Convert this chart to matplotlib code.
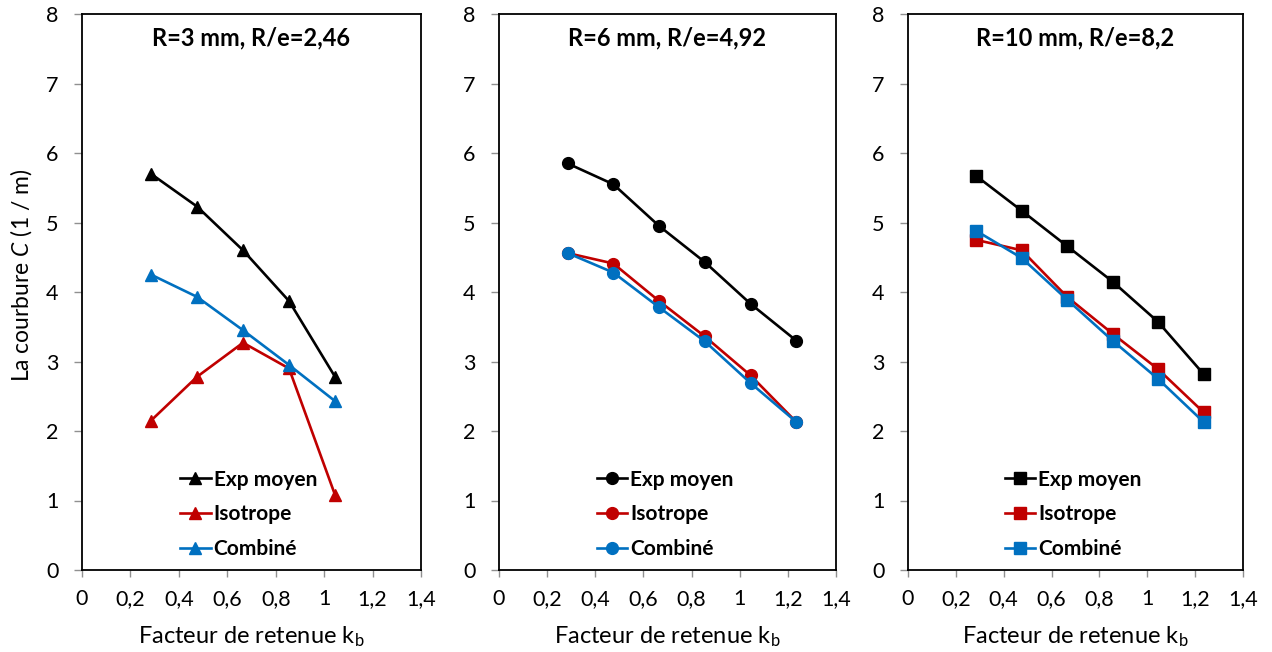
import numpy as np
import matplotlib
matplotlib.use("Agg")
import matplotlib.pyplot as plt
from matplotlib.ticker import FuncFormatter

plt.rcParams['font.family'] = ['Lato', 'DejaVu Sans']
plt.rcParams['mathtext.fontset'] = 'custom'
plt.rcParams['mathtext.rm'] = 'Lato'
plt.rcParams['mathtext.it'] = 'Lato:italic'

# Data
x_r3 = [0.285, 0.475, 0.665, 0.855, 1.045]
exp_r3 = [5.70, 5.23, 4.60, 3.87, 2.78]
iso_r3 = [2.15, 2.78, 3.27, 2.90, 1.08]
comb_r3 = [4.25, 3.93, 3.45, 2.95, 2.43]

x_r6 = [0.285, 0.475, 0.665, 0.855, 1.045, 1.235]
exp_r6 = [5.85, 5.55, 4.95, 4.43, 3.83, 3.30]
iso_r6 = [4.56, 4.41, 3.87, 3.36, 2.80, 2.13]
comb_r6 = [4.56, 4.28, 3.78, 3.29, 2.69, 2.13]

x_r10 = [0.285, 0.475, 0.665, 0.855, 1.045, 1.235]
exp_r10 = [5.67, 5.17, 4.66, 4.15, 3.57, 2.82]
iso_r10 = [4.75, 4.60, 3.93, 3.40, 2.89, 2.27]
comb_r10 = [4.88, 4.49, 3.89, 3.30, 2.75, 2.13]

titles = ["R=3 mm, R/e=2,46", "R=6 mm, R/e=4,92", "R=10 mm, R/e=8,2"]
series_names = ["Exp moyen", "Isotrope", "Combiné"]
colors = ["#000000", "#C00000", "#0070C0"]

panels = [
    (x_r3, [exp_r3, iso_r3, comb_r3], '^', 8.5),
    (x_r6, [exp_r6, iso_r6, comb_r6], 'o', 8.5),
    (x_r10, [exp_r10, iso_r10, comb_r10], 's', 8),
]

fig = plt.figure(figsize=(12.72, 6.52), dpi=100)
W, H = 1272, 652
lefts = [82, 499, 908]
widths = [339, 337, 335]
top_px, bot_px = 14, 570

comma = FuncFormatter(lambda v, p: ('%g' % round(v, 2)).replace('.', ','))

for i, (x, ys, marker, ms) in enumerate(panels):
    ax = fig.add_axes([lefts[i] / W, (H - bot_px) / H, widths[i] / W, (bot_px - top_px) / H])
    for y, name, c in zip(ys, series_names, colors):
        ax.plot(x, y, color=c, marker=marker, markersize=ms, linewidth=1.9, label=name)
    ax.set_xlim(0, 1.4)
    ax.set_ylim(0, 8)
    ax.set_xticks(np.arange(0, 1.41, 0.2))
    ax.set_yticks(range(0, 9))
    ax.xaxis.set_major_formatter(comma)
    ax.tick_params(axis='both', direction='out', width=1, color='#909090', labelsize=15.5)
    ax.tick_params(axis='x', length=5, pad=9)
    ax.tick_params(axis='y', length=6, pad=11)
    for s in ax.spines.values():
        s.set_color('#000000')
        s.set_linewidth(1.3)

    ax.text(0.5, 0.944, titles[i], transform=ax.transAxes, ha='center', va='baseline',
            fontsize=17, fontweight='bold')

    ax.set_xlabel(r"Facteur de retenue k$_\mathregular{b}$", fontsize=17, va='top')
    ax.xaxis.set_label_coords(0.5, -0.097)
    if i == 0:
        ax.set_ylabel(r"La courbure $C$ (1 / m)", fontsize=16.5)
        ax.yaxis.set_label_coords(-0.142, 0.53)

    ax.legend(loc='lower left', bbox_to_anchor=(0.29, 0.02), frameon=False,
              prop={'weight': 'bold', 'size': 15}, handlelength=1.45,
              handletextpad=0.15, labelspacing=0.7, borderpad=0, borderaxespad=0)

fig.savefig("out.png", dpi=100)
